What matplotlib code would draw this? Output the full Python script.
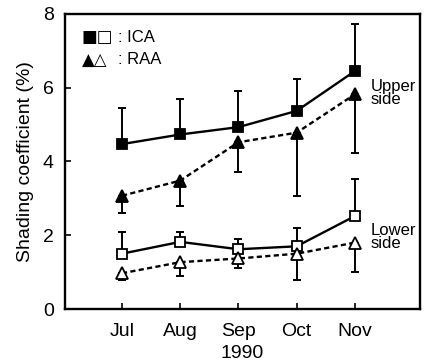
import matplotlib
matplotlib.use('Agg')
import matplotlib.pyplot as plt

months = ['Jul', 'Aug', 'Sep', 'Oct', 'Nov']

# upper side of the leaf
ica_upper = [4.47, 4.73, 4.93, 5.37, 6.45]
ica_upper_err = [0.97, 0.97, 0.97, 0.86, 1.28]
raa_upper = [3.07, 3.48, 4.52, 4.78, 5.82]
raa_upper_err = [0.47, 0.68, 0.80, 1.71, 1.60]

# lower side of the leaf
ica_lower = [1.5, 1.82, 1.62, 1.7, 2.52]
ica_lower_err = [0.6, 0.28, 0.28, 0.5, 1.0]
raa_lower = [0.97, 1.27, 1.37, 1.5, 1.8]
raa_lower_err = [0.17, 0.38, 0.27, 0.7, 0.8]

plt.rcParams['font.family'] = ['Liberation Sans', 'DejaVu Sans']


def draw(ax, vals, err, marker, face, ls, up):
    x = list(range(1, len(vals) + 1))
    zeros = [0] * len(err)
    yerr = [zeros, err] if up else [err, zeros]
    ax.errorbar(x, vals, yerr=yerr, fmt='none', ecolor='black',
                elinewidth=1.4, capsize=3, capthick=1.4, zorder=2)
    ax.plot(x, vals, color='black', lw=1.7, ls=ls, zorder=3,
            marker=marker, ms=7 if marker == 's' else 8,
            mfc=face, mec='black', mew=1.3)


def main():
    fig = plt.figure(figsize=(4.27, 3.64), dpi=100)
    ax = fig.add_axes([0.152, 0.151, 0.832, 0.811])

    dash = (0, (2.2, 1.4))
    draw(ax, ica_upper, ica_upper_err, 's', 'black', '-', True)
    draw(ax, raa_upper, raa_upper_err, '^', 'black', dash, False)
    draw(ax, ica_lower, ica_lower_err, 's', 'white', '-', True)
    draw(ax, raa_lower, raa_lower_err, '^', 'white', dash, False)

    ax.set_xlim(0.02, 6.12)
    ax.set_ylim(0, 8)
    ax.set_xticks(range(1, len(months) + 1))
    ax.set_xticklabels(months)
    ax.set_yticks([0, 2, 4, 6, 8])
    ax.tick_params(direction='in', length=4, width=1.2, labelsize=14)
    ax.tick_params(axis='x', pad=10)
    ax.tick_params(axis='y', pad=8)
    for s in ax.spines.values():
        s.set_linewidth(1.7)

    ax.set_xlabel('1990', fontsize=14, labelpad=4)
    ax.set_ylabel('Shading coefficient (%)', fontsize=14, labelpad=6)

    ax.text(0.048, 0.92, '■□', transform=ax.transAxes, fontsize=12,
            family=['DejaVu Sans'], va='center')
    ax.text(0.048, 0.845, '▲△', transform=ax.transAxes, fontsize=12,
            family=['DejaVu Sans'], va='center')
    ax.text(0.15, 0.92, ': ICA', transform=ax.transAxes, fontsize=12,
            va='center')
    ax.text(0.15, 0.845, ': RAA', transform=ax.transAxes, fontsize=12,
            va='center')
    ax.text(5.27, 5.85, 'Upper\nside', fontsize=12, linespacing=0.85, va='center')
    ax.text(5.27, 1.95, 'Lower\nside', fontsize=12, linespacing=0.85, va='center')

    fig.savefig('out.png', dpi=100)


if __name__ == '__main__':
    main()
